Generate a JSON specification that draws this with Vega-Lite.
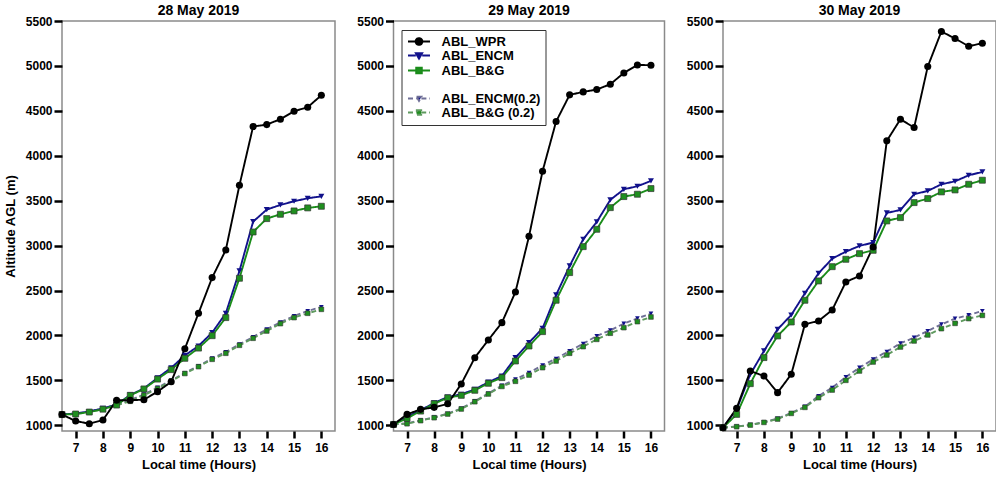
{
  "$schema": "https://vega.github.io/schema/vega-lite/v6.json",
  "background": "white",
  "padding": {"left": 3, "top": 3, "right": 0, "bottom": 0},
  "spacing": 19.5,
  "data": {
    "values": [
      {"day": 28, "t": 6.5, "wpr": 1120, "encm": 1120, "bg": 1120, "encm02": 1120, "bg02": 1120},
      {"day": 28, "t": 7, "wpr": 1048, "encm": 1132, "bg": 1126, "encm02": 1132, "bg02": 1126},
      {"day": 28, "t": 7.5, "wpr": 1018, "encm": 1154, "bg": 1148, "encm02": 1154, "bg02": 1148},
      {"day": 28, "t": 8, "wpr": 1059, "encm": 1188, "bg": 1180, "encm02": 1188, "bg02": 1180},
      {"day": 28, "t": 8.5, "wpr": 1280, "encm": 1232, "bg": 1226, "encm02": 1230, "bg02": 1224},
      {"day": 28, "t": 9, "wpr": 1280, "encm": 1338, "bg": 1334, "encm02": 1280, "bg02": 1268},
      {"day": 28, "t": 9.5, "wpr": 1285, "encm": 1410, "bg": 1405, "encm02": 1345, "bg02": 1335},
      {"day": 28, "t": 10, "wpr": 1375, "encm": 1528, "bg": 1515, "encm02": 1420, "bg02": 1410},
      {"day": 28, "t": 10.5, "wpr": 1485, "encm": 1640, "bg": 1620, "encm02": 1500, "bg02": 1492},
      {"day": 28, "t": 11, "wpr": 1853, "encm": 1778, "bg": 1746, "encm02": 1583, "bg02": 1577},
      {"day": 28, "t": 11.5, "wpr": 2247, "encm": 1883, "bg": 1860, "encm02": 1661, "bg02": 1653},
      {"day": 28, "t": 12, "wpr": 2644, "encm": 2032, "bg": 1998, "encm02": 1746, "bg02": 1735},
      {"day": 28, "t": 12.5, "wpr": 2952, "encm": 2247, "bg": 2199, "encm02": 1816, "bg02": 1802},
      {"day": 28, "t": 13, "wpr": 3672, "encm": 2718, "bg": 2637, "encm02": 1902, "bg02": 1891},
      {"day": 28, "t": 13.5, "wpr": 4325, "encm": 3267, "bg": 3152, "encm02": 1984, "bg02": 1969},
      {"day": 28, "t": 14, "wpr": 4347, "encm": 3401, "bg": 3301, "encm02": 2069, "bg02": 2050},
      {"day": 28, "t": 14.5, "wpr": 4407, "encm": 3453, "bg": 3349, "encm02": 2147, "bg02": 2132},
      {"day": 28, "t": 15, "wpr": 4496, "encm": 3494, "bg": 3386, "encm02": 2217, "bg02": 2199},
      {"day": 28, "t": 15.5, "wpr": 4540, "encm": 3527, "bg": 3420, "encm02": 2273, "bg02": 2247},
      {"day": 28, "t": 16, "wpr": 4674, "encm": 3549, "bg": 3438, "encm02": 2317, "bg02": 2291},
      {"day": 29, "t": 6.5, "wpr": 1010, "encm": 1010, "bg": 1010, "encm02": 1010, "bg02": 1010},
      {"day": 29, "t": 7, "wpr": 1122, "encm": 1095, "bg": 1078, "encm02": 1022, "bg02": 1018},
      {"day": 29, "t": 7.5, "wpr": 1178, "encm": 1168, "bg": 1159, "encm02": 1055, "bg02": 1052},
      {"day": 29, "t": 8, "wpr": 1200, "encm": 1250, "bg": 1241, "encm02": 1090, "bg02": 1085},
      {"day": 29, "t": 8.5, "wpr": 1240, "encm": 1315, "bg": 1307, "encm02": 1130, "bg02": 1126},
      {"day": 29, "t": 9, "wpr": 1460, "encm": 1345, "bg": 1334, "encm02": 1188, "bg02": 1182},
      {"day": 29, "t": 9.5, "wpr": 1753, "encm": 1400, "bg": 1390, "encm02": 1270, "bg02": 1263},
      {"day": 29, "t": 10, "wpr": 1950, "encm": 1480, "bg": 1468, "encm02": 1355, "bg02": 1349},
      {"day": 29, "t": 10.5, "wpr": 2143, "encm": 1549, "bg": 1531, "encm02": 1442, "bg02": 1433},
      {"day": 29, "t": 11, "wpr": 2484, "encm": 1753, "bg": 1716, "encm02": 1512, "bg02": 1490},
      {"day": 29, "t": 11.5, "wpr": 3104, "encm": 1920, "bg": 1883, "encm02": 1586, "bg02": 1560},
      {"day": 29, "t": 12, "wpr": 3828, "encm": 2080, "bg": 2043, "encm02": 1668, "bg02": 1642},
      {"day": 29, "t": 12.5, "wpr": 4381, "encm": 2451, "bg": 2392, "encm02": 1742, "bg02": 1716},
      {"day": 29, "t": 13, "wpr": 4678, "encm": 2774, "bg": 2700, "encm02": 1828, "bg02": 1802},
      {"day": 29, "t": 13.5, "wpr": 4711, "encm": 3071, "bg": 2989, "encm02": 1909, "bg02": 1876},
      {"day": 29, "t": 14, "wpr": 4737, "encm": 3264, "bg": 3182, "encm02": 1995, "bg02": 1957},
      {"day": 29, "t": 14.5, "wpr": 4796, "encm": 3509, "bg": 3423, "encm02": 2058, "bg02": 2025},
      {"day": 29, "t": 15, "wpr": 4922, "encm": 3627, "bg": 3546, "encm02": 2132, "bg02": 2087},
      {"day": 29, "t": 15.5, "wpr": 5011, "encm": 3661, "bg": 3572, "encm02": 2191, "bg02": 2154},
      {"day": 29, "t": 16, "wpr": 5008, "encm": 3720, "bg": 3635, "encm02": 2243, "bg02": 2206},
      {"day": 30, "t": 6.5, "wpr": 974, "encm": 974, "bg": 974, "encm02": 974, "bg02": 974},
      {"day": 30, "t": 7, "wpr": 1189, "encm": 1178, "bg": 1122, "encm02": 988, "bg02": 985},
      {"day": 30, "t": 7.5, "wpr": 1605, "encm": 1568, "bg": 1464, "encm02": 1005, "bg02": 1003},
      {"day": 30, "t": 8, "wpr": 1549, "encm": 1828, "bg": 1754, "encm02": 1035, "bg02": 1033},
      {"day": 30, "t": 8.5, "wpr": 1364, "encm": 2069, "bg": 1995, "encm02": 1075, "bg02": 1070},
      {"day": 30, "t": 9, "wpr": 1568, "encm": 2228, "bg": 2150, "encm02": 1138, "bg02": 1133},
      {"day": 30, "t": 9.5, "wpr": 2124, "encm": 2470, "bg": 2392, "encm02": 1208, "bg02": 1200},
      {"day": 30, "t": 10, "wpr": 2162, "encm": 2692, "bg": 2607, "encm02": 1327, "bg02": 1308},
      {"day": 30, "t": 10.5, "wpr": 2284, "encm": 2856, "bg": 2766, "encm02": 1419, "bg02": 1393},
      {"day": 30, "t": 11, "wpr": 2596, "encm": 2933, "bg": 2848, "encm02": 1538, "bg02": 1501},
      {"day": 30, "t": 11.5, "wpr": 2663, "encm": 2997, "bg": 2911, "encm02": 1642, "bg02": 1605},
      {"day": 30, "t": 12, "wpr": 2985, "encm": 3034, "bg": 2948, "encm02": 1735, "bg02": 1705},
      {"day": 30, "t": 12.5, "wpr": 4166, "encm": 3364, "bg": 3275, "encm02": 1820, "bg02": 1783},
      {"day": 30, "t": 13, "wpr": 4407, "encm": 3397, "bg": 3312, "encm02": 1913, "bg02": 1872},
      {"day": 30, "t": 13.5, "wpr": 4314, "encm": 3572, "bg": 3479, "encm02": 1976, "bg02": 1939},
      {"day": 30, "t": 14, "wpr": 4993, "encm": 3609, "bg": 3524, "encm02": 2050, "bg02": 2006},
      {"day": 30, "t": 14.5, "wpr": 5383, "encm": 3683, "bg": 3598, "encm02": 2124, "bg02": 2076},
      {"day": 30, "t": 15, "wpr": 5305, "encm": 3716, "bg": 3620, "encm02": 2188, "bg02": 2135},
      {"day": 30, "t": 15.5, "wpr": 5219, "encm": 3783, "bg": 3683, "encm02": 2228, "bg02": 2188},
      {"day": 30, "t": 16, "wpr": 5253, "encm": 3820, "bg": 3728, "encm02": 2273, "bg02": 2224}
    ]
  },
  "config": {
    "font": "Liberation Sans",
    "view": {"stroke": "#8a8a8a", "strokeWidth": 1.5},
    "title": {"fontSize": 14, "fontWeight": "bold", "color": "black", "offset": -3},
    "axis": {
      "domain": false, "grid": false, "tickColor": "black", "tickWidth": 2.5,
      "labelFontSize": 12, "labelFontWeight": "bold", "labelColor": "black",
      "titleFontSize": 13, "titleFontWeight": "bold", "titleColor": "black"
    },
    "axisX": {"tickSize": 7, "labelPadding": 4, "titlePadding": 5},
    "axisY": {"tickSize": 8, "labelPadding": 2, "titlePadding": 8},
    "legend": {
      "orient": "none", "legendX": 8, "legendY": 9,
      "strokeColor": "#333333", "fillColor": "white", "padding": 5,
      "labelFontSize": 13, "labelFontWeight": "bold", "labelColor": "black", "labelFont": "Liberation Sans",
      "labelLimit": 200, "symbolSize": 64, "labelOffset": 16, "rowPadding": 0, "symbolOffset": 6
    }
  },
  "resolve": {
    "scale": {"stroke": "independent", "fill": "independent", "shape": "independent", "strokeDash": "independent", "strokeWidth": "independent"}
  },
  "hconcat": [
    {
      "width": 273, "height": 410,
      "title": "28 May 2019",
      "transform": [
        {"filter": "datum.day == 28"},
        {"fold": ["encm02", "bg02", "encm", "bg", "wpr"], "as": ["series", "alt"]}
      ],
      "encoding": {
        "x": {"field": "t", "type": "quantitative", "scale": {"domain": [6.5, 16.5], "nice": false, "zero": false}, "axis": {"values": [7, 8, 9, 10, 11, 12, 13, 14, 15, 16], "title": "Local time (Hours)"}},
        "y": {"field": "alt", "type": "quantitative", "scale": {"domain": [937, 5500], "nice": false, "zero": false}, "axis": {"values": [1000, 1500, 2000, 2500, 3000, 3500, 4000, 4500, 5000, 5500], "format": "d", "title": "Altitude AGL (m)"}}
      },
      "layer": [
        {
          "mark": {"type": "line"},
          "encoding": {
            "stroke": {"field": "series", "type": "nominal", "legend": null, "scale": {"domain": ["wpr", "encm", "bg", "gap", "encm02", "bg02"], "range": ["#000000", "#12128c", "#1a8c1a", "transparent", "#6f6f96", "#5f9a5f"]}},
            "strokeDash": {"field": "series", "type": "nominal", "legend": null, "scale": {"domain": ["wpr", "encm", "bg", "gap", "encm02", "bg02"], "range": [[1, 0], [1, 0], [1, 0], [1, 0], [5, 3], [5, 3]]}},
            "strokeWidth": {"field": "series", "type": "nominal", "legend": null, "scale": {"domain": ["wpr", "encm", "bg", "gap", "encm02", "bg02"], "range": [1.9, 1.9, 1.9, 0, 1, 1]}}
          }
        },
        {"transform": [{"filter": "datum.series == 'encm02'"}], "mark": {"type": "point", "shape": "triangle-down", "filled": true, "size": 22, "color": "#10108a", "opacity": 1}},
        {"transform": [{"filter": "datum.series == 'bg02'"}], "mark": {"type": "point", "shape": "square", "filled": true, "size": 22, "fill": "#1f8f1f", "stroke": "#333333", "strokeWidth": 0.6, "opacity": 1}},
        {"transform": [{"filter": "datum.series == 'encm'"}], "mark": {"type": "point", "shape": "triangle-down", "filled": true, "size": 36, "color": "#10108a", "opacity": 1}},
        {"transform": [{"filter": "datum.series == 'bg'"}], "mark": {"type": "point", "shape": "square", "filled": true, "size": 36, "fill": "#1f8f1f", "stroke": "#333333", "strokeWidth": 0.7, "opacity": 1}},
        {"transform": [{"filter": "datum.series == 'wpr'"}], "mark": {"type": "point", "shape": "circle", "filled": true, "size": 50, "color": "#000000", "opacity": 1}}
      ]
    },
    {
      "width": 271, "height": 410,
      "title": "29 May 2019",
      "transform": [
        {"filter": "datum.day == 29"},
        {"fold": ["encm02", "bg02", "encm", "bg", "wpr"], "as": ["series", "alt"]}
      ],
      "encoding": {
        "x": {"field": "t", "type": "quantitative", "scale": {"domain": [6.5, 16.5], "nice": false, "zero": false}, "axis": {"values": [7, 8, 9, 10, 11, 12, 13, 14, 15, 16], "title": "Local time (Hours)"}},
        "y": {"field": "alt", "type": "quantitative", "scale": {"domain": [937, 5500], "nice": false, "zero": false}, "axis": {"values": [1000, 1500, 2000, 2500, 3000, 3500, 4000, 4500, 5000, 5500], "format": "d", "title": null}}
      },
      "layer": [
        {
          "transform": [{"filter": "false"}],
          "mark": {"type": "point", "filled": true, "opacity": 1, "size": 64},
          "encoding": {
            "shape": {"field": "series", "type": "nominal", "legend": {"title": null, "labelExpr": "{'wpr': 'ABL_WPR', 'encm': 'ABL_ENCM', 'bg': 'ABL_B&G', 'gap': '', 'encm02': 'ABL_ENCM(0.2)', 'bg02': 'ABL_B&G (0.2)'}[datum.label]"}, "scale": {"domain": ["wpr", "encm", "bg", "gap", "encm02", "bg02"], "range": [
              "M-2.75,0H-0.85M0.85,0H2.75M-0.85,0A0.85,0.85,0,1,0,0.85,0A0.85,0.85,0,1,0,-0.85,0Z",
              "M-2.75,0H-0.8M0.8,0H2.75M-0.8,-0.6H0.8L0,0.8Z",
              "M-2.75,0H-0.7M0.7,0H2.75M-0.7,-0.7H0.7V0.7H-0.7Z",
              "M0,0",
              "M-2.75,0H-0.6M0.6,0H2.75M-0.6,-0.45H0.6L0,0.6Z",
              "M-2.75,0H-0.55M0.55,0H2.75M-0.55,-0.55H0.55V0.55H-0.55Z"
            ]}},
            "stroke": {"field": "series", "type": "nominal", "legend": {"title": null, "labelExpr": "{'wpr': 'ABL_WPR', 'encm': 'ABL_ENCM', 'bg': 'ABL_B&G', 'gap': '', 'encm02': 'ABL_ENCM(0.2)', 'bg02': 'ABL_B&G (0.2)'}[datum.label]"}, "scale": {"domain": ["wpr", "encm", "bg", "gap", "encm02", "bg02"], "range": ["#000000", "#12128c", "#1a8c1a", "transparent", "#6f6f96", "#5f9a5f"]}},
            "fill": {"field": "series", "type": "nominal", "legend": {"title": null, "labelExpr": "{'wpr': 'ABL_WPR', 'encm': 'ABL_ENCM', 'bg': 'ABL_B&G', 'gap': '', 'encm02': 'ABL_ENCM(0.2)', 'bg02': 'ABL_B&G (0.2)'}[datum.label]"}, "scale": {"domain": ["wpr", "encm", "bg", "gap", "encm02", "bg02"], "range": ["#000000", "#10108a", "#1f8f1f", "transparent", "#10108a", "#1f8f1f"]}},
            "strokeDash": {"field": "series", "type": "nominal", "legend": {"title": null, "labelExpr": "{'wpr': 'ABL_WPR', 'encm': 'ABL_ENCM', 'bg': 'ABL_B&G', 'gap': '', 'encm02': 'ABL_ENCM(0.2)', 'bg02': 'ABL_B&G (0.2)'}[datum.label]"}, "scale": {"domain": ["wpr", "encm", "bg", "gap", "encm02", "bg02"], "range": [[1, 0], [1, 0], [1, 0], [1, 0], [5, 3], [5, 3]]}},
            "strokeWidth": {"field": "series", "type": "nominal", "legend": {"title": null, "labelExpr": "{'wpr': 'ABL_WPR', 'encm': 'ABL_ENCM', 'bg': 'ABL_B&G', 'gap': '', 'encm02': 'ABL_ENCM(0.2)', 'bg02': 'ABL_B&G (0.2)'}[datum.label]"}, "scale": {"domain": ["wpr", "encm", "bg", "gap", "encm02", "bg02"], "range": [1.9, 1.9, 1.9, 0, 1, 1]}}
          }
        },
        {
          "mark": {"type": "line"},
          "encoding": {
            "stroke": {"field": "series", "type": "nominal", "scale": {"domain": ["wpr", "encm", "bg", "gap", "encm02", "bg02"], "range": ["#000000", "#12128c", "#1a8c1a", "transparent", "#6f6f96", "#5f9a5f"]}},
            "strokeDash": {"field": "series", "type": "nominal", "scale": {"domain": ["wpr", "encm", "bg", "gap", "encm02", "bg02"], "range": [[1, 0], [1, 0], [1, 0], [1, 0], [5, 3], [5, 3]]}},
            "strokeWidth": {"field": "series", "type": "nominal", "scale": {"domain": ["wpr", "encm", "bg", "gap", "encm02", "bg02"], "range": [1.9, 1.9, 1.9, 0, 1, 1]}}
          }
        },
        {"transform": [{"filter": "datum.series == 'encm02'"}], "mark": {"type": "point", "shape": "triangle-down", "filled": true, "size": 22, "color": "#10108a", "opacity": 1}},
        {"transform": [{"filter": "datum.series == 'bg02'"}], "mark": {"type": "point", "shape": "square", "filled": true, "size": 22, "fill": "#1f8f1f", "stroke": "#333333", "strokeWidth": 0.6, "opacity": 1}},
        {"transform": [{"filter": "datum.series == 'encm'"}], "mark": {"type": "point", "shape": "triangle-down", "filled": true, "size": 36, "color": "#10108a", "opacity": 1}},
        {"transform": [{"filter": "datum.series == 'bg'"}], "mark": {"type": "point", "shape": "square", "filled": true, "size": 36, "fill": "#1f8f1f", "stroke": "#333333", "strokeWidth": 0.7, "opacity": 1}},
        {"transform": [{"filter": "datum.series == 'wpr'"}], "mark": {"type": "point", "shape": "circle", "filled": true, "size": 50, "color": "#000000", "opacity": 1}}
      ]
    },
    {
      "width": 273, "height": 410,
      "title": "30 May 2019",
      "transform": [
        {"filter": "datum.day == 30"},
        {"fold": ["encm02", "bg02", "encm", "bg", "wpr"], "as": ["series", "alt"]}
      ],
      "encoding": {
        "x": {"field": "t", "type": "quantitative", "scale": {"domain": [6.5, 16.5], "nice": false, "zero": false}, "axis": {"values": [7, 8, 9, 10, 11, 12, 13, 14, 15, 16], "title": "Local time (Hours)"}},
        "y": {"field": "alt", "type": "quantitative", "scale": {"domain": [937, 5500], "nice": false, "zero": false}, "axis": {"values": [1000, 1500, 2000, 2500, 3000, 3500, 4000, 4500, 5000, 5500], "format": "d", "title": null}}
      },
      "layer": [
        {
          "mark": {"type": "line"},
          "encoding": {
            "stroke": {"field": "series", "type": "nominal", "legend": null, "scale": {"domain": ["wpr", "encm", "bg", "gap", "encm02", "bg02"], "range": ["#000000", "#12128c", "#1a8c1a", "transparent", "#6f6f96", "#5f9a5f"]}},
            "strokeDash": {"field": "series", "type": "nominal", "legend": null, "scale": {"domain": ["wpr", "encm", "bg", "gap", "encm02", "bg02"], "range": [[1, 0], [1, 0], [1, 0], [1, 0], [5, 3], [5, 3]]}},
            "strokeWidth": {"field": "series", "type": "nominal", "legend": null, "scale": {"domain": ["wpr", "encm", "bg", "gap", "encm02", "bg02"], "range": [1.9, 1.9, 1.9, 0, 1, 1]}}
          }
        },
        {"transform": [{"filter": "datum.series == 'encm02'"}], "mark": {"type": "point", "shape": "triangle-down", "filled": true, "size": 22, "color": "#10108a", "opacity": 1}},
        {"transform": [{"filter": "datum.series == 'bg02'"}], "mark": {"type": "point", "shape": "square", "filled": true, "size": 22, "fill": "#1f8f1f", "stroke": "#333333", "strokeWidth": 0.6, "opacity": 1}},
        {"transform": [{"filter": "datum.series == 'encm'"}], "mark": {"type": "point", "shape": "triangle-down", "filled": true, "size": 36, "color": "#10108a", "opacity": 1}},
        {"transform": [{"filter": "datum.series == 'bg'"}], "mark": {"type": "point", "shape": "square", "filled": true, "size": 36, "fill": "#1f8f1f", "stroke": "#333333", "strokeWidth": 0.7, "opacity": 1}},
        {"transform": [{"filter": "datum.series == 'wpr'"}], "mark": {"type": "point", "shape": "circle", "filled": true, "size": 50, "color": "#000000", "opacity": 1}}
      ]
    }
  ]
}
